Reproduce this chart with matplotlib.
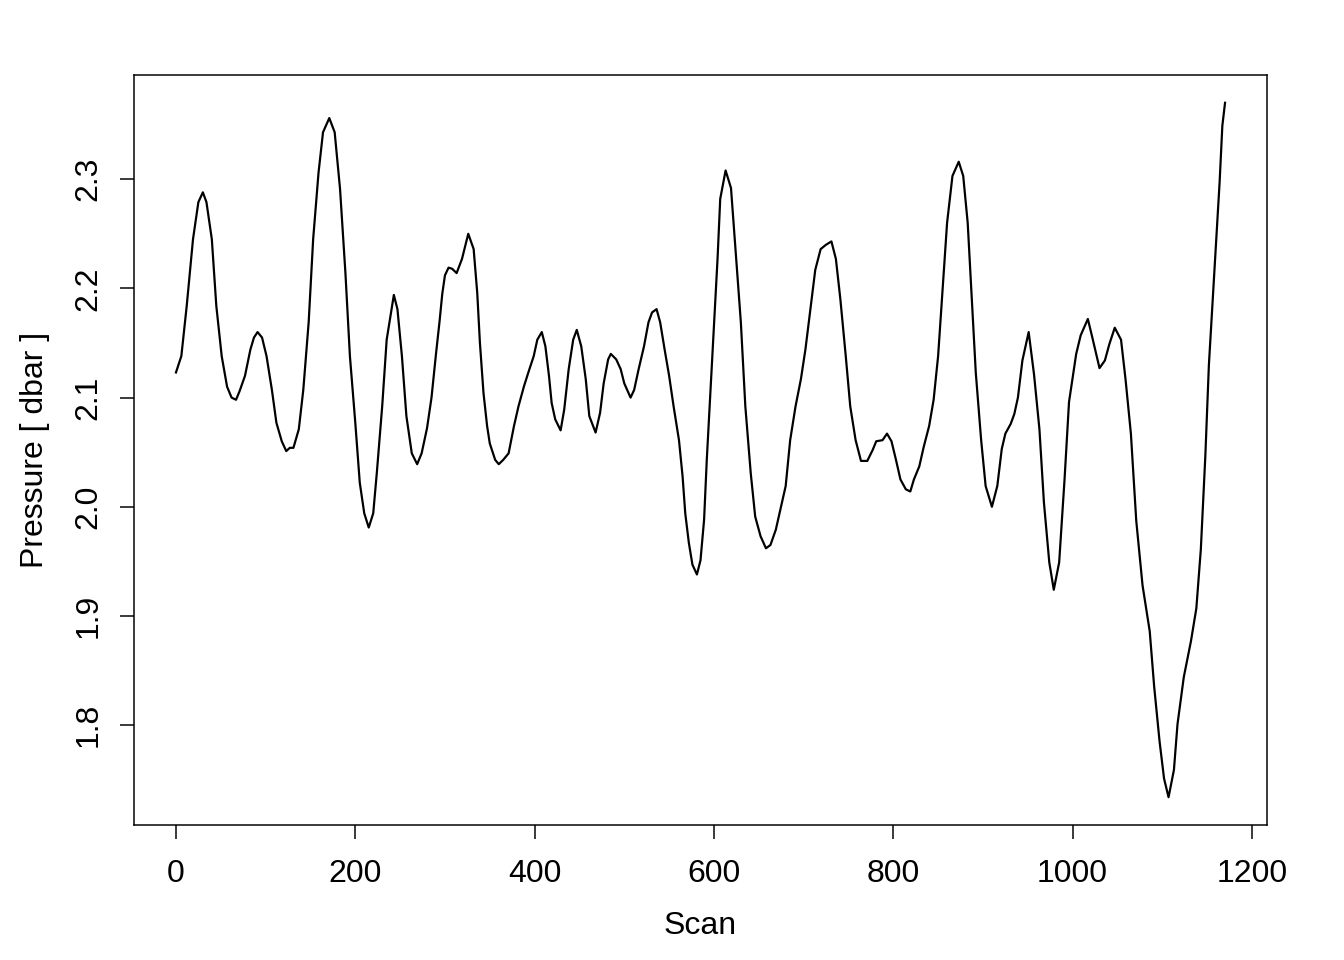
import matplotlib.pyplot as plt

# valores (scan, pressao em dbar)
scan = [0, 6, 12, 19, 25, 30, 34, 40, 45, 51, 57, 62, 67, 71, 77, 83, 87, 91, 96, 101,
        107, 112, 118, 123, 127, 131, 137, 142, 148, 153, 159, 164, 171, 177, 183, 189,
        194, 200, 205, 210, 215, 220, 224, 230, 235, 243, 247, 252, 257, 263, 269, 274,
        280, 285, 290, 294, 297, 300, 304, 308, 313, 319, 326, 332, 336, 339, 343, 347,
        350, 356, 360, 365, 371, 377, 382, 388, 393, 399, 403, 408, 412, 416, 419, 423,
        429, 433, 438, 443, 447, 452, 457, 461, 468, 473, 477, 482, 485, 491, 496, 500,
        507, 511, 516, 522, 527, 531, 536, 540, 545, 550, 555, 561, 565, 568, 572, 576,
        581, 585, 589, 592, 596, 600, 604, 607, 613, 619, 624, 630, 635, 641, 646, 652,
        658, 663, 669, 674, 680, 685, 691, 697, 702, 708, 713, 719, 725, 731, 736, 741,
        747, 752, 758, 764, 771, 777, 781, 788, 793, 798, 803, 808, 814, 819, 823, 829,
        834, 840, 845, 850, 855, 860, 866, 873, 878, 883, 887, 892, 898, 903, 910, 916,
        921, 925, 931, 935, 939, 944, 951, 957, 963, 968, 974, 979, 985, 991, 996, 1004,
        1009, 1017, 1022, 1030, 1036, 1041, 1047, 1054, 1059, 1065, 1071, 1078, 1086, 1091,
        1097, 1102, 1107, 1113, 1117, 1124, 1132, 1138, 1143, 1148, 1152, 1158, 1164, 1167,
        1170]
pressao = [2.123, 2.138, 2.184, 2.245, 2.279, 2.288, 2.279, 2.245, 2.184, 2.138, 2.110,
           2.100, 2.098, 2.106, 2.120, 2.144, 2.155, 2.160, 2.155, 2.138, 2.107, 2.077,
           2.060, 2.051, 2.054, 2.054, 2.071, 2.107, 2.169, 2.245, 2.306, 2.343, 2.356,
           2.343, 2.291, 2.214, 2.138, 2.077, 2.022, 1.994, 1.981, 1.994, 2.031, 2.092,
           2.153, 2.194, 2.181, 2.138, 2.083, 2.049, 2.039, 2.049, 2.072, 2.100, 2.140,
           2.170, 2.195, 2.212, 2.219, 2.218, 2.214, 2.227, 2.250, 2.236, 2.196, 2.150,
           2.104, 2.074, 2.058, 2.043, 2.039, 2.043, 2.049, 2.074, 2.092, 2.110, 2.123,
           2.138, 2.153, 2.160, 2.147, 2.120, 2.095, 2.080, 2.070, 2.089, 2.126, 2.153,
           2.162, 2.147, 2.117, 2.083, 2.068, 2.086, 2.113, 2.135, 2.140, 2.135, 2.126,
           2.113, 2.100, 2.107, 2.126, 2.147, 2.169, 2.178, 2.181, 2.169, 2.144, 2.120,
           2.092, 2.061, 2.028, 1.994, 1.967, 1.947, 1.938, 1.951, 1.988, 2.043, 2.104,
           2.165, 2.227, 2.282, 2.308, 2.292, 2.236, 2.169, 2.092, 2.031, 1.991, 1.973,
           1.962, 1.965, 1.979, 1.997, 2.019, 2.061, 2.092, 2.117, 2.144, 2.184, 2.217,
           2.236, 2.240, 2.243, 2.227, 2.190, 2.138, 2.092, 2.061, 2.042, 2.042, 2.052,
           2.060, 2.061, 2.067, 2.060, 2.043, 2.025, 2.016, 2.014, 2.025, 2.037, 2.055,
           2.074, 2.098, 2.138, 2.199, 2.260, 2.303, 2.316, 2.303, 2.260, 2.199, 2.123,
           2.061, 2.019, 2.000, 2.019, 2.053, 2.067, 2.076, 2.085, 2.100, 2.134, 2.160,
           2.121, 2.071, 2.004, 1.949, 1.924, 1.949, 2.025, 2.096, 2.140, 2.157, 2.172,
           2.155, 2.127, 2.134, 2.149, 2.164, 2.153, 2.117, 2.067, 1.987, 1.928, 1.886,
           1.835, 1.785, 1.751, 1.734, 1.759, 1.801, 1.844, 1.877, 1.907, 1.961, 2.046,
           2.130, 2.214, 2.298, 2.349, 2.370]

xticks = [0, 200, 400, 600, 800, 1000, 1200]
yticks = [1.8, 1.9, 2.0, 2.1, 2.2, 2.3]

plt.rcParams['font.family'] = ['Liberation Sans', 'DejaVu Sans']
plt.rcParams['font.size'] = 16

fig = plt.figure(figsize=(1344 / 144, 960 / 144), dpi=144)
ax = fig.add_axes([134 / 1344, 1 - 825 / 960, (1267 - 134) / 1344, (825 - 75) / 960])

ax.plot(scan, pressao, color='black', linewidth=1.1)

# limites no estilo do R (4% de folga)
xr = max(scan) - min(scan)
yr = max(pressao) - min(pressao)
ax.set_xlim(min(scan) - 0.04 * xr, max(scan) + 0.04 * xr)
ax.set_ylim(min(pressao) - 0.04 * yr, max(pressao) + 0.04 * yr)

ax.set_xticks(xticks)
ax.set_yticks(yticks)
ax.set_xticklabels([str(t) for t in xticks])
ax.set_yticklabels([f'{t:.1f}' for t in yticks])
ax.tick_params(direction='out', length=7.2, width=0.75, labelsize=16)
ax.tick_params(axis='x', pad=10)
ax.tick_params(axis='y', pad=8)
for lbl in ax.get_yticklabels():
    lbl.set_rotation(90)
    lbl.set_va('center')

for s in ax.spines.values():
    s.set_linewidth(0.75)

ax.set_xlabel('Scan', fontsize=16, labelpad=11)
ax.set_ylabel('Pressure [ dbar ]', fontsize=16, labelpad=12)

fig.savefig('out.png', dpi=144)
